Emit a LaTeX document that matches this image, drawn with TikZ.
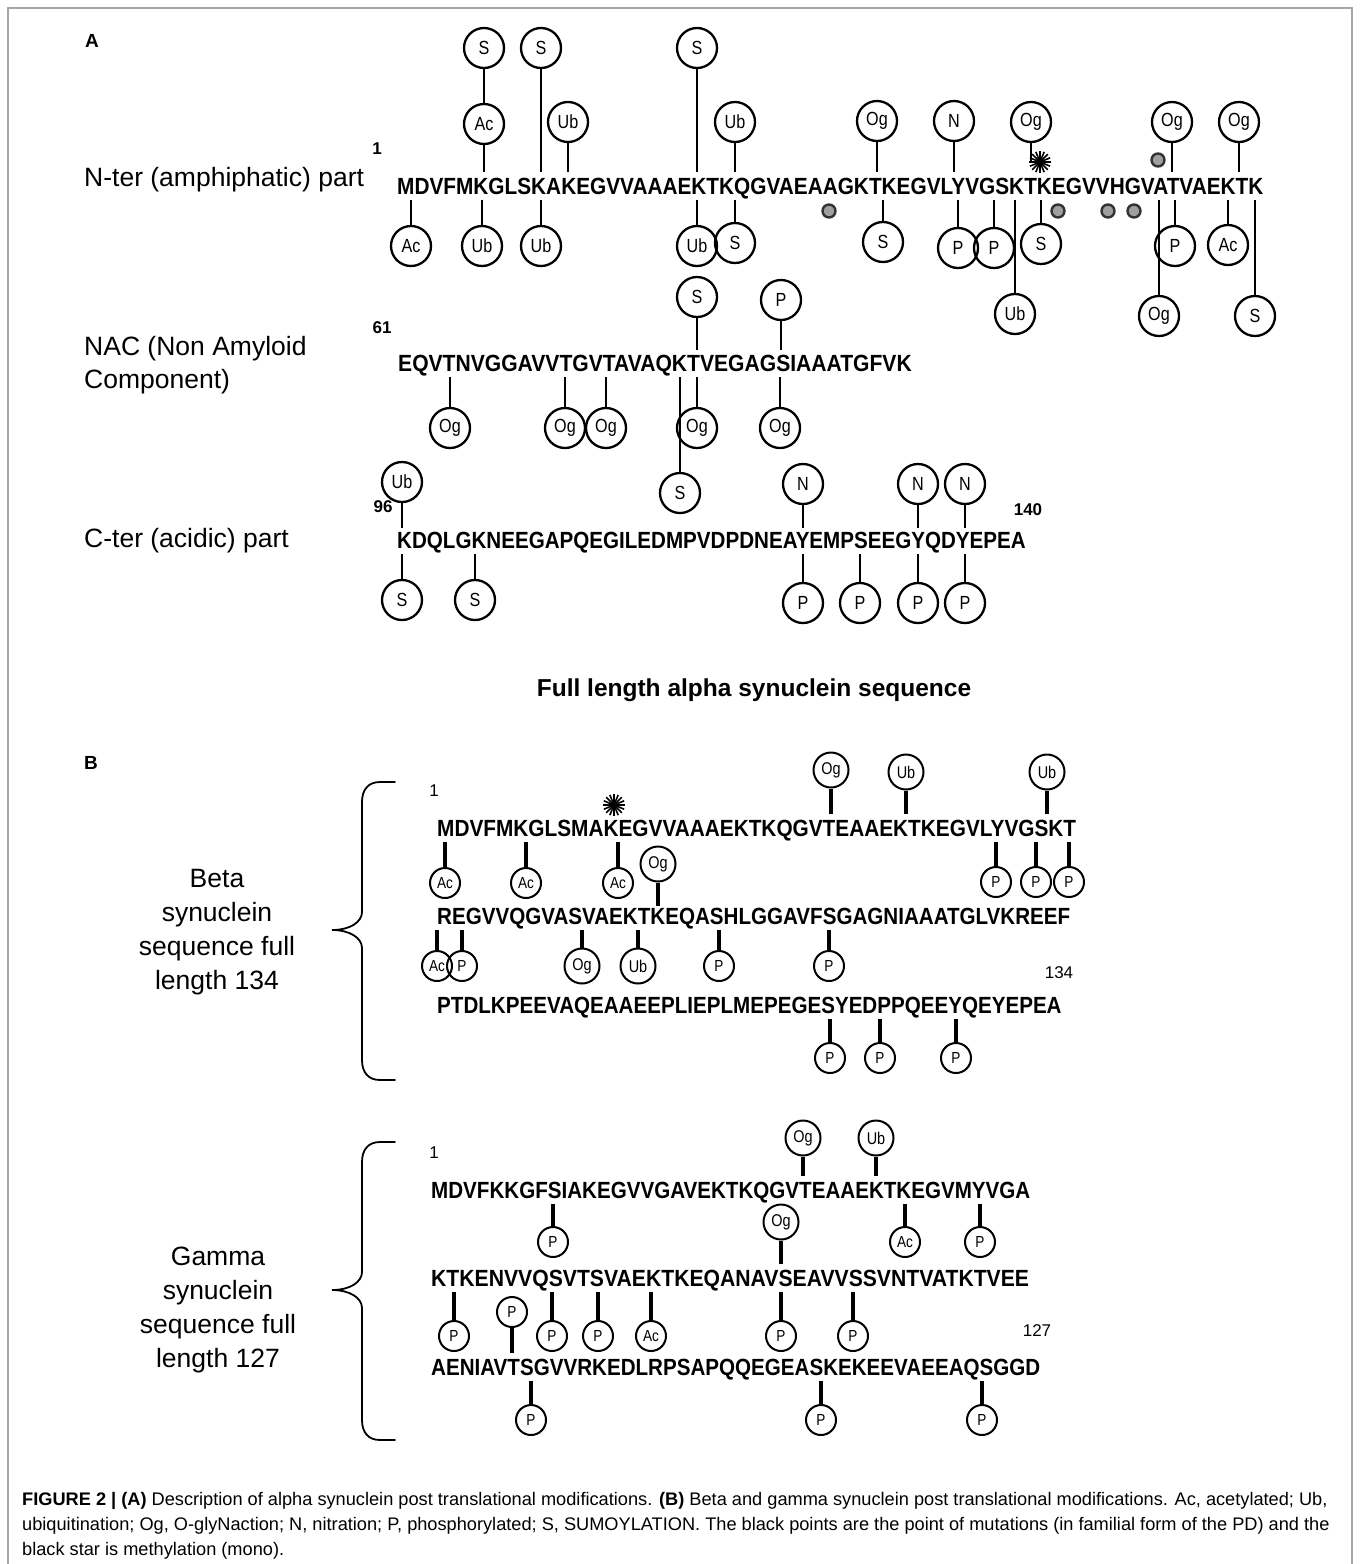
\documentclass[tikz,border=0pt]{standalone}
\usepackage{fontspec}
\setmainfont{Liberation Sans}
\newfontfamily\seqfont{Liberation Sans}[FakeStretch=0.88]
\newfontfamily\modfont{Liberation Sans}[FakeStretch=0.85]
\usetikzlibrary{positioning}

\begin{document}
\begin{tikzpicture}[x=1pt,y=-1pt]
		\tikzstyle{seq}=[font=\seqfont\bfseries\fontsize{23.4}{28}\selectfont, inner sep=0pt, anchor=base west]
		\tikzstyle{lab}=[font=\fontsize{26.5}{32}\selectfont, inner sep=0pt, anchor=base west]
		\tikzstyle{clab}=[font=\fontsize{26.5}{32}\selectfont, inner sep=0pt, anchor=base]
		\tikzstyle{num}=[font=\bfseries\fontsize{17}{20}\selectfont, inner sep=0pt, anchor=base]
		\tikzstyle{numr}=[font=\fontsize{17}{20}\selectfont, inner sep=0pt, anchor=base]
		\tikzstyle{capt}=[font=\fontsize{18.2}{22}\selectfont, inner sep=0pt, anchor=base west]
		\tikzstyle{mA}=[circle, draw, line width=2.3pt, minimum size=40pt, inner sep=0pt, font=\modfont\fontsize{19}{19}\selectfont]
		\tikzstyle{stA}=[line width=2pt]
		\tikzstyle{mB}=[circle, draw, line width=2pt, minimum size=30pt, inner sep=0pt, font=\modfont\fontsize{16}{16}\selectfont]
		\tikzstyle{mBb}=[mB, minimum size=35pt, font=\modfont\fontsize{17}{17}\selectfont]
		\tikzstyle{stB}=[line width=4.5pt]
		\tikzstyle{mut}=[circle, fill=gray!75, draw=black!80, line width=2.4pt, minimum size=13pt, inner sep=0pt]
		\tikzstyle{ray}=[line width=1.6pt]
		\tikzstyle{brace}=[line width=1.8pt, line cap=round]

		\useasboundingbox (0,0) rectangle (1360,1564);
		\draw[gray!70, line width=1.3pt] (8,1564) -- (8,8) -- (1352,8) -- (1352,1564);

		% panel A
		\node[font=\bfseries\fontsize{19}{20}\selectfont, anchor=base] (pA) at (92,47) {A};
		\node[lab] (L1) at (84,186) {N-ter (amphiphatic) part};
		\node[lab] (L2a) at (84,355) {NAC (Non Amyloid};
		\node[lab] (L2b) at (84,388) {Component)};
		\node[lab] (L3) at (84,547) {C-ter (acidic) part};
		\node[num] (n1) at (377,154) {1};
		\node[num] (n61) at (382,333) {61};
		\node[num] (n96) at (383,512) {96};
		\node[num] (n140) at (1028,515) {140};

		\node[seq] (S1) at (397,194) {\scalebox{1.01}[1]{MDVFMKGLSKAKEGVVAAAEKTKQGVAEAAGKTKEGVLYVGSKTKEGVVHGVATVAEKTK}};
		\node[seq] (S2) at (398,371) {\scalebox{1.024}[1]{EQVTNVGGAVVTGVTAVAQKTVEGAGSIAAATGFVK}};
		\node[seq] (S3) at (397,548) {KDQLGKNEEGAPQEGILEDMPVDPDNEAYEMPSEEGYQDYEPEA};

		% N-ter, above
		\node[mA] (top1) at (484,48) {S};
		\node[mA] (top2) at (484,124) {Ac};
		\coordinate (top2e) at (484,172);
		\draw[stA] (top1) -- (top2);
		\draw[stA] (top2) -- (top2e);
		\foreach \x/\y/\t [count=\i] in {541/48/S, 568/122/Ub, 697/48/S, 735/122/Ub, 877/121/Og, 954/121/N, 1172/122/Og, 1239/122/Og}{
			\node[mA] (up\i) at (\x,\y) {\t};
			\coordinate (up\i e) at (\x,172);
			\draw[stA] (up\i) -- (up\i e);
		}
		\node[mA] (og31) at (1031,122) {Og};
		\coordinate (star1) at (1040,162);
		\coordinate (og31e) at (1031,163);
		\draw[stA] (og31) -- (og31e);
		\foreach \a in {0,22.5,...,157.5}
			\draw[ray] (star1) ++(\a:11pt) -- ++(\a+180:22pt);
		% N-ter, below
		\foreach \x/\y/\t [count=\i] in {411/246/Ac, 482/246/Ub, 541/246/Ub, 697/246/Ub, 735/243/S, 883/242/S, 958/248/P, 994/248/P, 1015/314/Ub, 1041/244/S, 1159/316/Og, 1175/246/P, 1228/245/Ac, 1255/316/S}{
			\coordinate (dn\i e) at (\x,200);
			\node[mA] (dn\i) at (\x,\y) {\t};
			\draw[stA] (dn\i e) -- (dn\i);
		}
		% mutations
		\foreach \x/\y [count=\i] in {829/211, 1058/211, 1108/211, 1134/211, 1158/160}
			\node[mut] (mu\i) at (\x,\y) {};

		% NAC
		\foreach \x/\y/\t [count=\i] in {697/297/S, 781/300/P}{
			\node[mA] (nu\i) at (\x,\y) {\t};
			\coordinate (nu\i e) at (\x,350);
			\draw[stA] (nu\i) -- (nu\i e);
		}
		\foreach \x/\y/\t [count=\i] in {450/428/Og, 565/428/Og, 606/428/Og, 697/428/Og, 780/428/Og, 680/493/S}{
			\coordinate (nd\i e) at (\x,377);
			\node[mA] (nd\i) at (\x,\y) {\t};
			\draw[stA] (nd\i e) -- (nd\i);
		}

		% C-ter
		\foreach \x/\y/\t [count=\i] in {402/482/Ub, 803/484/N, 918/484/N, 965/484/N}{
			\node[mA] (cu\i) at (\x,\y) {\t};
			\coordinate (cu\i e) at (\x,528);
			\draw[stA] (cu\i) -- (cu\i e);
		}
		\foreach \x/\y/\t [count=\i] in {402/600/S, 475/600/S, 803/603/P, 860/603/P, 918/603/P, 965/603/P}{
			\coordinate (cd\i e) at (\x,554);
			\node[mA] (cd\i) at (\x,\y) {\t};
			\draw[stA] (cd\i e) -- (cd\i);
		}

		\node[font=\bfseries\fontsize{24.5}{28}\selectfont, anchor=base] (title) at (754,696) {Full length alpha synuclein sequence};

		% panel B
		\node[font=\bfseries\fontsize{19}{20}\selectfont, anchor=base] (pB) at (91,769) {B};

		% beta
		\draw[brace] (395,782) -- (380,782) .. controls (368,782) and (362,790) .. (362,802) -- (362,912) .. controls (362,922) and (350,930) .. (332,930) .. controls (350,930) and (362,938) .. (362,948) -- (362,1060) .. controls (362,1072) and (368,1080) .. (380,1080) -- (395,1080);
		\node[clab] (bl1) at (217,887) {Beta};
		\node[clab] (bl2) at (217,921) {synuclein};
		\node[clab] (bl3) at (217,955) {sequence full};
		\node[clab] (bl4) at (217,989) {length 134};
		\node[numr] (b1) at (434,796) {1};
		\node[numr] (b134) at (1059,978) {134};

		\node[seq] (B1) at (437,836) {\scalebox{1.01}[1]{MDVFMKGLSMAKEGVVAAAEKTKQGVTEAAEKTKEGVLYVGSKT}};
		\node[seq] (B2) at (437,924) {REGVVQGVASVAEKTKEQASHLGGAVFSGAGNIAAATGLVKREEF};
		\node[seq] (B3) at (437,1013) {PTDLKPEEVAQEAAEEPLIEPLMEPEGESYEDPPQEEYQEYEPEA};

		\coordinate (star2) at (614,805);
		\foreach \a in {0,22.5,...,157.5}
			\draw[ray] (star2) ++(\a:11pt) -- ++(\a+180:22pt);
		\foreach \x/\y/\t [count=\i] in {831/770/Og, 906/772/Ub, 1047/772/Ub}{
			\node[mBb] (bu\i) at (\x,\y) {\t};
			\coordinate (bu\i e) at (\x,814);
			\draw[stB] (bu\i) -- (bu\i e);
		}
		\foreach \x/\y/\t/\s [count=\i] in {445/883/Ac/mB, 526/883/Ac/mB, 618/883/Ac/mB, 996/882/P/mB, 1036/882/P/mB, 1069/882/P/mB}{
			\coordinate (bd\i e) at (\x,842);
			\node[\s] (bd\i) at (\x,\y) {\t};
			\draw[stB] (bd\i e) -- (bd\i);
		}
		\node[mBb] (bm1) at (658,864) {Og};
		\coordinate (bm1e) at (658,906);
		\draw[stB] (bm1) -- (bm1e);
		\foreach \x/\y/\t/\s [count=\i] in {437/966/Ac/mB, 462/966/P/mB, 582/966/Og/mBb, 638/966/Ub/mBb, 719/966/P/mB, 829/966/P/mB}{
			\coordinate (be\i e) at (\x,930);
			\node[\s] (be\i) at (\x,\y) {\t};
			\draw[stB] (be\i e) -- (be\i);
		}
		\foreach \x/\y/\t [count=\i] in {830/1058/P, 880/1058/P, 956/1058/P}{
			\coordinate (bf\i e) at (\x,1019);
			\node[mB] (bf\i) at (\x,\y) {\t};
			\draw[stB] (bf\i e) -- (bf\i);
		}

		% gamma
		\draw[brace] (395,1142) -- (380,1142) .. controls (368,1142) and (362,1150) .. (362,1162) -- (362,1272) .. controls (362,1282) and (350,1290) .. (332,1290) .. controls (350,1290) and (362,1298) .. (362,1308) -- (362,1420) .. controls (362,1432) and (368,1440) .. (380,1440) -- (395,1440);
		\node[clab] (gl1) at (218,1265) {Gamma};
		\node[clab] (gl2) at (218,1299) {synuclein};
		\node[clab] (gl3) at (218,1333) {sequence full};
		\node[clab] (gl4) at (218,1367) {length 127};
		\node[numr] (g1) at (434,1158) {1};
		\node[numr] (g127) at (1037,1336) {127};

		\node[seq] (G1) at (431,1198) {MDVFKKGFSIAKEGVVGAVEKTKQGVTEAAEKTKEGVMYVGA};
		\node[seq] (G2) at (431,1286) {\scalebox{1.028}[1]{KTKENVVQSVTSVAEKTKEQANAVSEAVVSSVNTVATKTVEE}};
		\node[seq] (G3) at (431,1375) {AENIAVTSGVVRKEDLRPSAPQQEGEASKEKEEVAEEAQSGGD};

		\foreach \x/\y/\t [count=\i] in {803/1138/Og, 876/1138/Ub}{
			\node[mBb] (gu\i) at (\x,\y) {\t};
			\coordinate (gu\i e) at (\x,1176);
			\draw[stB] (gu\i) -- (gu\i e);
		}
		\foreach \x/\y/\t [count=\i] in {553/1242/P, 905/1242/Ac, 980/1242/P}{
			\coordinate (gd\i e) at (\x,1204);
			\node[mB] (gd\i) at (\x,\y) {\t};
			\draw[stB] (gd\i e) -- (gd\i);
		}
		\node[mBb] (gm1) at (781,1222) {Og};
		\coordinate (gm1e) at (781,1264);
		\draw[stB] (gm1) -- (gm1e);
		\foreach \x/\y/\t [count=\i] in {454/1336/P, 552/1336/P, 598/1336/P, 651/1336/Ac, 781/1336/P, 853/1336/P}{
			\coordinate (ge\i e) at (\x,1292);
			\node[mB] (ge\i) at (\x,\y) {\t};
			\draw[stB] (ge\i e) -- (ge\i);
		}
		\node[mB] (gm2) at (512,1312) {P};
		\coordinate (gm2e) at (512,1353);
		\draw[stB] (gm2) -- (gm2e);
		\foreach \x/\y/\t [count=\i] in {531/1420/P, 821/1420/P, 982/1420/P}{
			\coordinate (gf\i e) at (\x,1381);
			\node[mB] (gf\i) at (\x,\y) {\t};
			\draw[stB] (gf\i e) -- (gf\i);
		}

		% caption
		\node[capt] (cap1) at (22,1505) {\textbf{FIGURE 2 | (A)} Description of alpha synuclein post translational modifications. \textbf{(B)} Beta and gamma synuclein post translational modifications. Ac, acetylated; Ub,};
		\node[capt] (cap2) at (22,1530) {ubiquitination; Og, O-glyNaction; N, nitration; P, phosphorylated; S, SUMOYLATION. The black points are the point of mutations (in familial form of the PD) and the};
		\node[capt] (cap3) at (22,1555) {black star is methylation (mono).};
\end{tikzpicture}
\end{document}
